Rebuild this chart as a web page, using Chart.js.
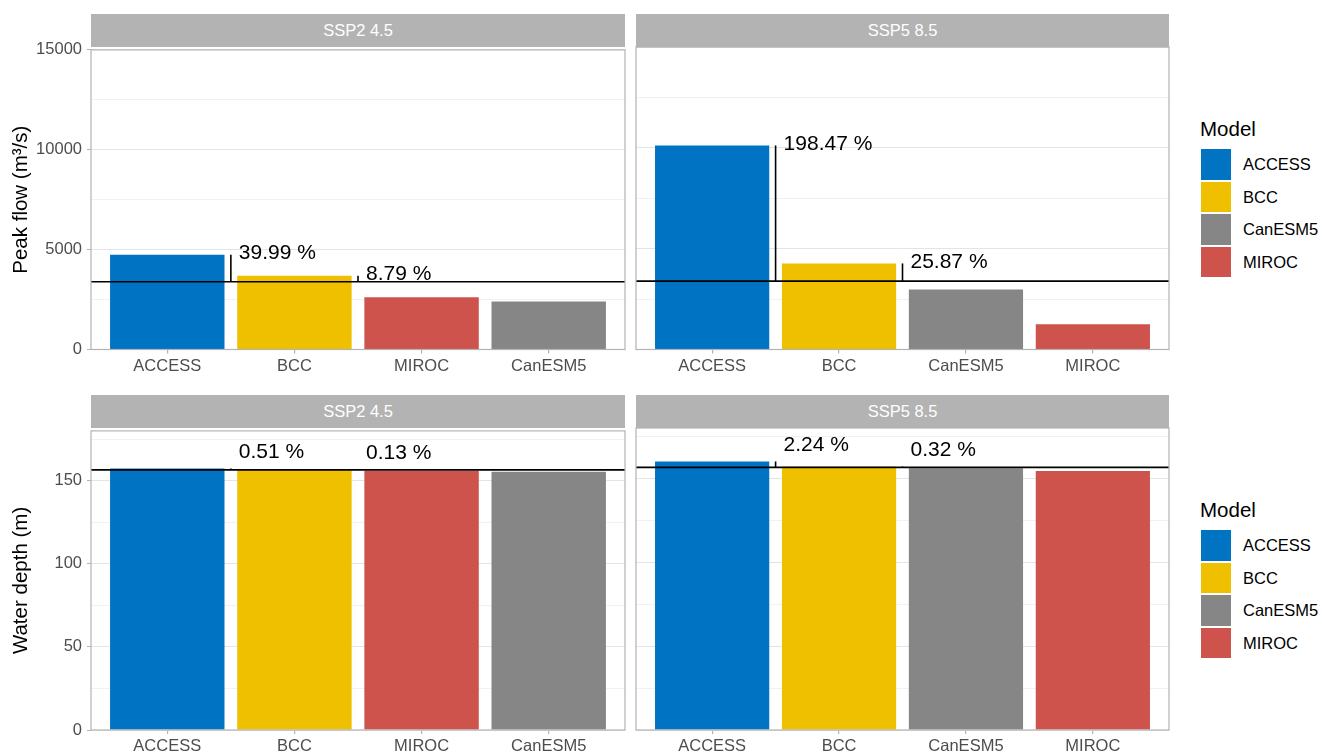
<!DOCTYPE html>
<html>
<head>
<meta charset="utf-8">
<title>Peak flow and water depth by model</title>
<script src="https://cdn.jsdelivr.net/npm/chart.js@4.4.0/dist/chart.umd.min.js"></script>
<style>
  html, body { margin: 0; padding: 0; background: #fff; overflow: hidden; }
  body { position: relative; width: 1322px; height: 756px; font-family: "Liberation Sans", Arial, sans-serif; }
  canvas { position: absolute; }
  .strip {
    position: absolute; height: 33px; line-height: 33px;
    background: #b3b3b3; color: #fff; font-size: 16.5px; text-align: center;
  }
  .legend { position: absolute; left: 1200px; }
  .legend .title { position: absolute; left: 0; top: -12px; line-height: 24px; font-size: 20.5px; color: #000; white-space: nowrap; }
  .legend .key { position: absolute; left: 1px; width: 30px; height: 30.5px; }
  .legend .lab { position: absolute; left: 43px; height: 30.5px; line-height: 30.5px; font-size: 16.5px; color: #000; white-space: nowrap; }
</style>
</head>
<body>
<canvas id="peak1" width="626" height="345" style="left:0;top:35px"></canvas>
<canvas id="peak2" width="535" height="345" style="left:635px;top:35px"></canvas>
<canvas id="depth1" width="626" height="344" style="left:0;top:416px"></canvas>
<canvas id="depth2" width="535" height="344" style="left:635px;top:416px"></canvas>

<div class="strip" style="left:91px;top:14px;width:534px">SSP2 4.5</div>
<div class="strip" style="left:636px;top:14px;width:533px">SSP5 8.5</div>
<div class="strip" style="left:91px;top:395px;width:534px">SSP2 4.5</div>
<div class="strip" style="left:636px;top:395px;width:533px">SSP5 8.5</div>

<div class="legend" id="legendTop" style="top:129px"></div>
<div class="legend" id="legendBottom" style="top:510px"></div>

<script>
// Models in legend order, with their fill colours
const models = ['ACCESS', 'BCC', 'CanESM5', 'MIROC'];
const modelColors = ['#0073C2', '#EFC000', '#868686', '#CD534C'];

// Bar order inside each scenario (largest first)
const ssp2Order = ['ACCESS', 'BCC', 'MIROC', 'CanESM5'];
const ssp5Order = ['ACCESS', 'BCC', 'CanESM5', 'MIROC'];

// Peak flow (m³/s); the horizontal line is the reference flow
const peakBaseline = 3390;
const peakSsp2 = [4745.7, 3688, 2620, 2400];
const peakSsp5 = [10118, 4267, 2977, 1255];
const peakTicks = [0, 5000, 10000, 15000];

// Water depth (m)
const depthBaseline = 156.55;
const depthSsp2 = [157.35, 156.75, 156.0, 155.4];
const depthSsp5 = [160.06, 157.05, 156.0, 154.4];
const depthTicks = [0, 50, 100, 150];

Chart.defaults.font.family = '"Liberation Sans", Arial, sans-serif';

const panels = [
  { id: 'peak1', order: ssp2Order, values: peakSsp2, base: peakBaseline, ticks: peakTicks, max: 15000, minor: 2500,
    title: 'Peak flow (m³/s)', showY: true, lift: 1.5, xHeight: 30.5 },
  { id: 'peak2', order: ssp5Order, values: peakSsp5, base: peakBaseline, ticks: peakTicks, max: 15000, minor: 2500,
    title: '', showY: false, lift: 1.5, xHeight: 30.5 },
  { id: 'depth1', order: ssp2Order, values: depthSsp2, base: depthBaseline, ticks: depthTicks, max: 180, minor: 25,
    title: 'Water depth (m)', showY: true, lift: 16, xHeight: 30 },
  { id: 'depth2', order: ssp5Order, values: depthSsp5, base: depthBaseline, ticks: depthTicks, max: 180, minor: 25,
    title: '', showY: false, lift: 16, xHeight: 30 }
];

// Reference line, change whiskers and percentage labels, then the panel frame
function panelExtras(p) {
  return {
    id: 'panelExtras',
    afterDatasetsDraw(chart) {
      const { ctx, chartArea, scales: { x, y } } = chart;
      const yBase = y.getPixelForValue(p.base);
      ctx.save();
      ctx.strokeStyle = '#000';
      ctx.lineWidth = 1.6;
      ctx.beginPath();
      ctx.moveTo(chartArea.left, yBase);
      ctx.lineTo(chartArea.right, yBase);
      ctx.stroke();
      ctx.font = '21px "Liberation Sans", Arial, sans-serif';
      ctx.fillStyle = '#000';
      ctx.textAlign = 'left';
      ctx.textBaseline = 'middle';
      p.values.forEach((v, i) => {
        if (v <= p.base) return;
        const xs = x.getPixelForValue(i + 1.5);
        const yv = y.getPixelForValue(v);
        ctx.beginPath();
        ctx.moveTo(xs, yBase);
        ctx.lineTo(xs, yv);
        ctx.stroke();
        const pct = ((v / p.base - 1) * 100).toFixed(2) + ' %';
        ctx.fillText(pct, xs + 8, yv - p.lift);
      });
      ctx.restore();
    },
    afterDraw(chart) {
      const { ctx, chartArea } = chart;
      ctx.save();
      ctx.strokeStyle = '#b3b3b3';
      ctx.lineWidth = 1.2;
      ctx.strokeRect(chartArea.left, chartArea.top, chartArea.right - chartArea.left, chartArea.bottom - chartArea.top);
      ctx.restore();
    }
  };
}

function makeChart(p) {
  const isMajor = v => p.ticks.includes(v);
  return new Chart(document.getElementById(p.id), {
    type: 'bar',
    data: {
      datasets: [{
        data: p.values.map((v, i) => ({ x: i + 1, y: v })),
        backgroundColor: p.order.map(m => modelColors[models.indexOf(m)]),
        borderWidth: 0,
        barPercentage: 0.9,
        categoryPercentage: 1
      }]
    },
    options: {
      responsive: false,
      animation: false,
      events: [],
      layout: { padding: { top: 12, left: p.showY ? 0 : 1, right: 1, bottom: 0 } },
      plugins: { legend: { display: false }, tooltip: { enabled: false } },
      scales: {
        x: {
          type: 'linear',
          min: 0.4,
          max: 4.6,
          offset: false,
          afterBuildTicks: axis => { axis.ticks = p.order.map((m, i) => ({ value: i + 1 })); },
          afterFit: axis => { axis.height = p.xHeight; },
          ticks: {
            callback: v => p.order[Math.round(v) - 1],
            color: '#4d4d4d',
            font: { size: 16.5 },
            padding: 3,
            maxRotation: 0,
            autoSkip: false
          },
          grid: { offset: false, drawOnChartArea: false, tickLength: 4, tickColor: '#b3b3b3', lineWidth: 1.2 },
          border: { display: false }
        },
        y: {
          min: 0,
          max: p.max,
          afterBuildTicks: axis => {
            const t = [];
            for (let v = 0; v <= p.max; v += p.minor) t.push({ value: v });
            axis.ticks = t;
          },
          afterFit: axis => { axis.width = p.showY ? 91 : 0; },
          ticks: {
            display: p.showY,
            callback: v => (isMajor(v) ? String(v) : ''),
            color: '#4d4d4d',
            font: { size: 16.5 },
            padding: 5,
            autoSkip: false
          },
          grid: {
            color: c => (c.tick && isMajor(c.tick.value) ? '#e4e4e4' : '#f1f1f1'),
            lineWidth: 1,
            drawTicks: p.showY,
            tickLength: 4,
            tickColor: c => (c.tick && isMajor(c.tick.value) ? '#b3b3b3' : 'rgba(0,0,0,0)')
          },
          border: { display: false },
          title: {
            display: p.showY,
            text: p.title,
            color: '#000',
            font: { size: 20.5 },
            padding: { top: 9, bottom: 0 }
          }
        }
      }
    },
    plugins: [panelExtras(p)]
  });
}

panels.forEach(makeChart);

// Legends: one per row
function buildLegend(el) {
  let html = '<div class="title">Model</div>';
  models.forEach((m, i) => {
    const top = 20 + i * 32.5;
    html += '<div class="key" style="top:' + top + 'px;background:' + modelColors[i] + '"></div>';
    html += '<div class="lab" style="top:' + top + 'px">' + m + '</div>';
  });
  el.innerHTML = html;
}
buildLegend(document.getElementById('legendTop'));
buildLegend(document.getElementById('legendBottom'));
</script>
</body>
</html>
